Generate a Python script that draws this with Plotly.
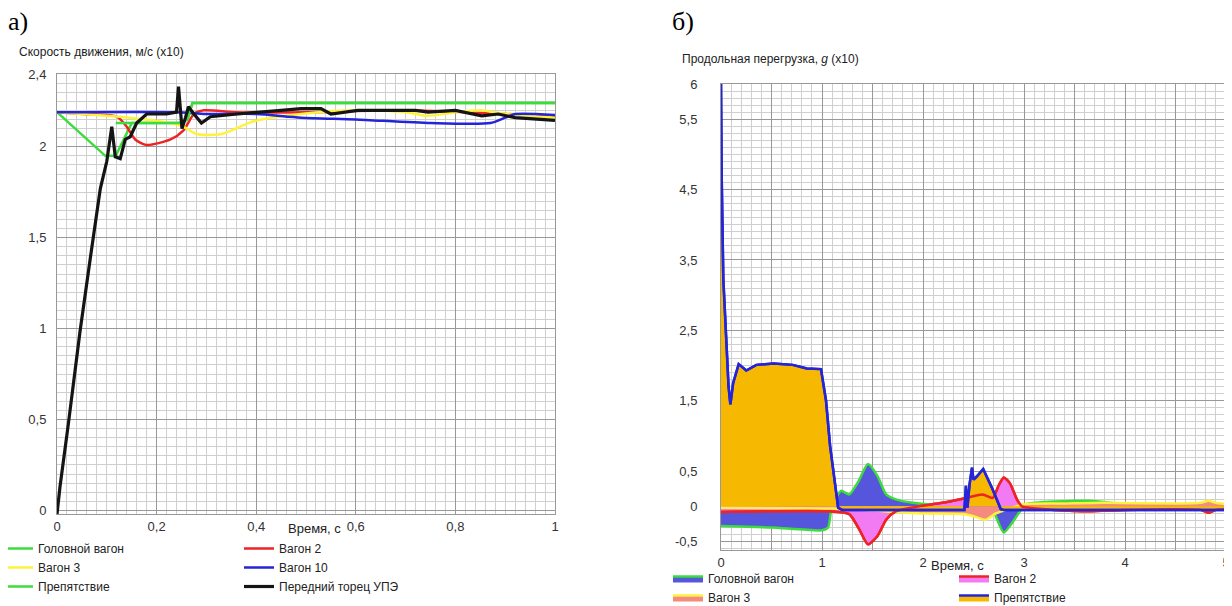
import plotly.graph_objects as go

# ---------------- Panel a) speed, m/s (x10) ----------------
t_head = [0, 0.097, 0.118, 0.135, 0.15, 0.245, 0.262, 0.272, 1.0]
v_head = [2.19, 1.95, 1.95, 2.05, 2.13, 2.13, 2.15, 2.24, 2.24]

t_car2 = [0, 0.053, 0.12, 0.14, 0.157, 0.18, 0.228, 0.254, 0.275, 0.295, 0.36, 0.5, 0.7, 0.9, 1.0]
v_car2 = [2.19, 2.18, 2.165, 2.11, 2.04, 2.01, 2.04, 2.09, 2.18, 2.2, 2.19, 2.19, 2.2, 2.18, 2.17]

t_car3 = [0, 0.1, 0.16, 0.228, 0.254, 0.28, 0.33, 0.395, 0.49, 0.6, 0.7, 0.745, 0.8, 0.85, 0.9, 1.0]
v_car3 = [2.19, 2.17, 2.155, 2.13, 2.11, 2.07, 2.07, 2.14, 2.18, 2.2, 2.19, 2.17, 2.19, 2.2, 2.18, 2.16]

t_car10 = [0, 0.24, 0.3, 0.4, 0.49, 0.6, 0.75, 0.87, 0.9, 0.92, 1.0]
v_car10 = [2.19, 2.19, 2.18, 2.18, 2.16, 2.15, 2.13, 2.13, 2.16, 2.18, 2.175]

t_obst = [0.118, 0.245, 0.262, 0.272, 1.0]
v_obst = [2.13, 2.13, 2.15, 2.24, 2.24]

t_upe = [0.0, 0.006, 0.023, 0.046, 0.0665, 0.087, 0.1, 0.11, 0.117, 0.127, 0.137, 0.147,
         0.16, 0.18, 0.22, 0.24, 0.244, 0.248, 0.251, 0.258, 0.264, 0.275, 0.29, 0.308,
         0.362, 0.45, 0.49, 0.53, 0.55, 0.604, 0.72, 0.745, 0.8, 0.853, 0.886, 0.92, 1.0]
v_upe = [-0.02, 0.13, 0.48, 0.98, 1.38, 1.77, 1.92, 2.11, 1.945, 1.935, 2.04, 2.055,
         2.13, 2.18, 2.18, 2.19, 2.33, 2.2, 2.1, 2.16, 2.22, 2.18, 2.13, 2.165,
         2.18, 2.2, 2.21, 2.21, 2.18, 2.2, 2.2, 2.19, 2.2, 2.17, 2.18, 2.16, 2.145]

a_xticks = [0, 0.2, 0.4, 0.6, 0.8, 1]
a_xtext = ["0", "0,2", "0,4", "0,6", "0,8", "1"]
a_yticks = [0, 0.5, 1, 1.5, 2, 2.4]
a_ytext = ["0", "0,5", "1", "1,5", "2", "2,4"]

# ---------------- Panel б) longitudinal overload, g (x10) ----------------
tb_head = [0, 0.5, 1.0, 1.06, 1.09, 1.11, 1.19, 1.27, 1.355, 1.455, 1.55, 1.635, 1.73, 1.9,
           2.1, 2.4, 2.5, 2.56, 2.65, 2.69, 2.8, 2.97, 3.02, 3.64, 4.0, 5.0]
g_head = [-0.28, -0.3, -0.34, -0.3, -0.05, 0.05, 0.22, 0.17, 0.34, 0.6, 0.43, 0.17, 0.1, 0.05,
          0.02, 0.0, -0.05, -0.11, -0.05, -0.05, -0.37, -0.05, 0.03, 0.08, 0.03, 0.0]

tb_car2 = [0, 1.08, 1.27, 1.37, 1.455, 1.55, 1.635, 1.73, 1.96, 2.19, 2.43, 2.59, 2.69, 2.75,
           2.8, 2.86, 2.93, 2.98, 3.05, 3.3, 3.64, 4.0, 4.5, 4.75, 4.83, 4.9, 5.0]
g_car2 = [-0.08, -0.07, -0.11, -0.33, -0.54, -0.42, -0.19, -0.07, 0.0, 0.05, 0.12, 0.17, 0.12, 0.3,
          0.41, 0.33, 0.1, 0.0, -0.02, -0.05, -0.07, -0.05, -0.04, -0.05, -0.09, -0.05, -0.04]

tb_car3 = [0, 1.1, 1.5, 2.0, 2.4, 2.5, 2.62, 2.72, 2.8, 3.0, 3.4, 3.8, 4.5, 4.75, 4.83, 4.9, 5.0]
g_car3 = [-0.02, -0.03, -0.06, -0.1, -0.11, -0.14, -0.19, -0.1, -0.06, 0.03, 0.04, 0.05, 0.04,
          0.05, 0.08, 0.05, 0.03]

tb_obst = [0, 0.007, 0.023, 0.056, 0.075, 0.093, 0.12, 0.175, 0.25, 0.35, 0.52, 0.71, 0.85, 0.99,
           1.04, 1.08, 1.16, 1.2, 2.41, 2.425, 2.44, 2.46, 2.485, 2.5, 2.53, 2.596, 2.69, 2.77,
           2.8, 5.0]
g_obst = [6.0, 4.66, 3.23, 2.28, 1.7, 1.45, 1.75, 2.02, 1.93, 2.01, 2.03, 2.01, 1.96, 1.95,
          1.5, 0.86, -0.02, -0.05, -0.05, 0.29, -0.02, 0.3, 0.55, 0.38, 0.42, 0.53, 0.24, -0.04,
          -0.05, -0.05]

b_xticks = [0, 0.5, 1, 1.5, 2, 2.5, 3, 3.5, 4, 4.5, 5]
b_xtext = ["0", "", "1", "", "2", "", "3", "", "4", "", "5"]
b_yticks = [-0.5, 0, 0.5, 1.5, 2.5, 3.5, 4.5, 5.5, 6]
b_ytext = ["-0,5", "0", "0,5", "1,5", "2,5", "3,5", "4,5", "5,5", "6"]

# page body adds an 8px margin: figure is drawn 8px in from the window corner
OFF = 8
W, H = 1232 - OFF, 606 - OFF
FONT = "Liberation Sans, Arial, sans-serif"

GREEN = "#3ddc3d"
YELLOW = "#fff23a"
RED = "#ee2424"
BLUE = "#2424d8"
BLACK = "#141414"

fig = go.Figure()

# panel a traces (legend columns via groups)
a_series = [
    ("Головной вагон", t_head, v_head, GREEN, 2.5, "a1", "linear"),
    ("Вагон 2", t_car2, v_car2, RED, 2.5, "a2", "spline"),
    ("Вагон 3", t_car3, v_car3, YELLOW, 2.5, "a1", "spline"),
    ("Вагон 10", t_car10, v_car10, BLUE, 2.5, "a2", "spline"),
    ("Препятствие", t_obst, v_obst, GREEN, 2.5, "a1", "linear"),
    ("Передний торец УПЭ", t_upe, v_upe, BLACK, 3.2, "a2", "linear"),
]
for name, x, y, c, w, grp, shp in a_series:
    fig.add_trace(go.Scatter(x=x, y=y, name=name, mode="lines",
                             line=dict(color=c, width=w, shape=shp, smoothing=0.7),
                             legendgroup=grp, xaxis="x", yaxis="y", legend="legend"))

# panel b traces
b_series = [
    ("Головной вагон", tb_head, g_head, GREEN, "#5656dc", "b1", "spline"),
    ("Вагон 2", tb_car2, g_car2, RED, "#f27af2", "b2", "spline"),
    ("Вагон 3", tb_car3, g_car3, YELLOW, "#f48a80", "b1", "spline"),
    ("Препятствие", tb_obst, g_obst, BLUE, "#f6b800", "b2", "linear"),
]
for name, x, y, lc, fc, grp, shp in b_series:
    fig.add_trace(go.Scatter(x=x, y=y, name=name, mode="lines", fill="tozeroy",
                             fillcolor=fc,
                             line=dict(color=lc, width=2.5, shape=shp, smoothing=0.6),
                             legendgroup=grp, xaxis="x2", yaxis="y2", legend="legend2"))
# outlines redrawn on top of the fills (line only)
for x, y, c, shp in [(tb_car2, g_car2, RED, "spline"), (tb_obst, g_obst, BLUE, "linear")]:
    fig.add_trace(go.Scatter(x=x, y=y, mode="lines", showlegend=False,
                             line=dict(color=c, width=2.5, shape=shp, smoothing=0.6),
                             xaxis="x2", yaxis="y2", hoverinfo="skip"))

def px_x(p):
    return (p - OFF) / W

def px_y(p):
    return 1 - (p - OFF) / H

MAJ = "#989898"
MIN = "#cfcfcf"
tickfont = dict(family=FONT, size=13, color="#333333")

fig.update_layout(
    width=W, height=H, autosize=False,
    margin=dict(l=0, r=0, t=0, b=0, autoexpand=False),
    paper_bgcolor="white", plot_bgcolor="white",
    font=dict(family=FONT, size=12, color="#222222"),
    xaxis=dict(domain=[px_x(57), px_x(555)], range=[0, 1], anchor="y",
               tickvals=a_xticks, ticktext=a_xtext, tickfont=tickfont, ticks="",
               showgrid=True, gridcolor=MAJ, gridwidth=1, zeroline=False,
               showline=True, linecolor=MAJ, mirror=True,
               minor=dict(dtick=0.02, tick0=0, showgrid=True, gridcolor=MIN)),
    yaxis=dict(domain=[px_y(514), px_y(74)], range=[-0.02, 2.4], anchor="x",
               tickvals=a_yticks, ticktext=a_ytext, tickfont=tickfont, ticks="",
               ticklabelstandoff=7,
               showgrid=True, gridcolor=MAJ, gridwidth=1, zeroline=False,
               showline=True, linecolor=MAJ, mirror=True,
               minor=dict(dtick=0.05, tick0=0, showgrid=True, gridcolor=MIN)),
    xaxis2=dict(domain=[px_x(721), px_x(1226)], range=[0, 5], anchor="y2",
                tickvals=b_xticks, ticktext=b_xtext, tickfont=tickfont, ticks="",
                showgrid=True, gridcolor=MAJ, gridwidth=1, zeroline=False,
                showline=True, linecolor=MAJ, mirror=True,
                minor=dict(dtick=0.1, tick0=0, showgrid=True, gridcolor=MIN)),
    yaxis2=dict(domain=[px_y(550), px_y(84)], range=[-0.62, 6.0], anchor="x2",
                tickvals=b_yticks, ticktext=b_ytext, tickfont=tickfont, ticks="",
                ticklabelstandoff=20,
                showgrid=True, gridcolor=MAJ, gridwidth=1, zeroline=False,
                showline=True, linecolor=MAJ, mirror=True,
                minor=dict(dtick=0.1, tick0=0, showgrid=True, gridcolor=MIN)),
    legend=dict(orientation="h", x=-10 / W, xanchor="left", y=1 - 526 / H, yanchor="top",
                entrywidth=196, entrywidthmode="pixels", traceorder="grouped",
                tracegroupgap=0,
                font=dict(family=FONT, size=12, color="#222222"),
                bgcolor="rgba(0,0,0,0)", itemwidth=30),
    legend2=dict(orientation="h", x=660 / W, xanchor="left", y=1 - 556 / H, yanchor="top",
                 entrywidth=241, entrywidthmode="pixels", traceorder="grouped",
                 tracegroupgap=0,
                 font=dict(family=FONT, size=12, color="#222222"),
                 bgcolor="rgba(0,0,0,0)", itemwidth=30),
    showlegend=True,
)

ann = [
    dict(text="а)", x=px_x(6), y=px_y(22), xanchor="left", yanchor="middle",
         font=dict(family="Liberation Serif, Times New Roman, serif", size=26, color="#000")),
    dict(text="б)", x=px_x(670), y=px_y(22), xanchor="left", yanchor="middle",
         font=dict(family="Liberation Serif, Times New Roman, serif", size=26, color="#000")),
    dict(text="Скорость движения, м/с (x10)", x=px_x(17), y=px_y(52), xanchor="left",
         yanchor="middle", font=dict(family=FONT, size=12, color="#222")),
    dict(text="Продольная перегрузка, <i>g</i> (x10)", x=px_x(680), y=px_y(59),
         xanchor="left", yanchor="middle", font=dict(family=FONT, size=12, color="#222")),
    dict(text="Время, с", x=px_x(314), y=px_y(528), xanchor="center", yanchor="middle",
         font=dict(family=FONT, size=13, color="#222")),
    dict(text="Время, с", x=px_x(957), y=px_y(565), xanchor="center", yanchor="middle",
         font=dict(family=FONT, size=13, color="#222")),
]
for a in ann:
    fig.add_annotation(xref="paper", yref="paper", showarrow=False, **a)

fig.write_html("out.html")
